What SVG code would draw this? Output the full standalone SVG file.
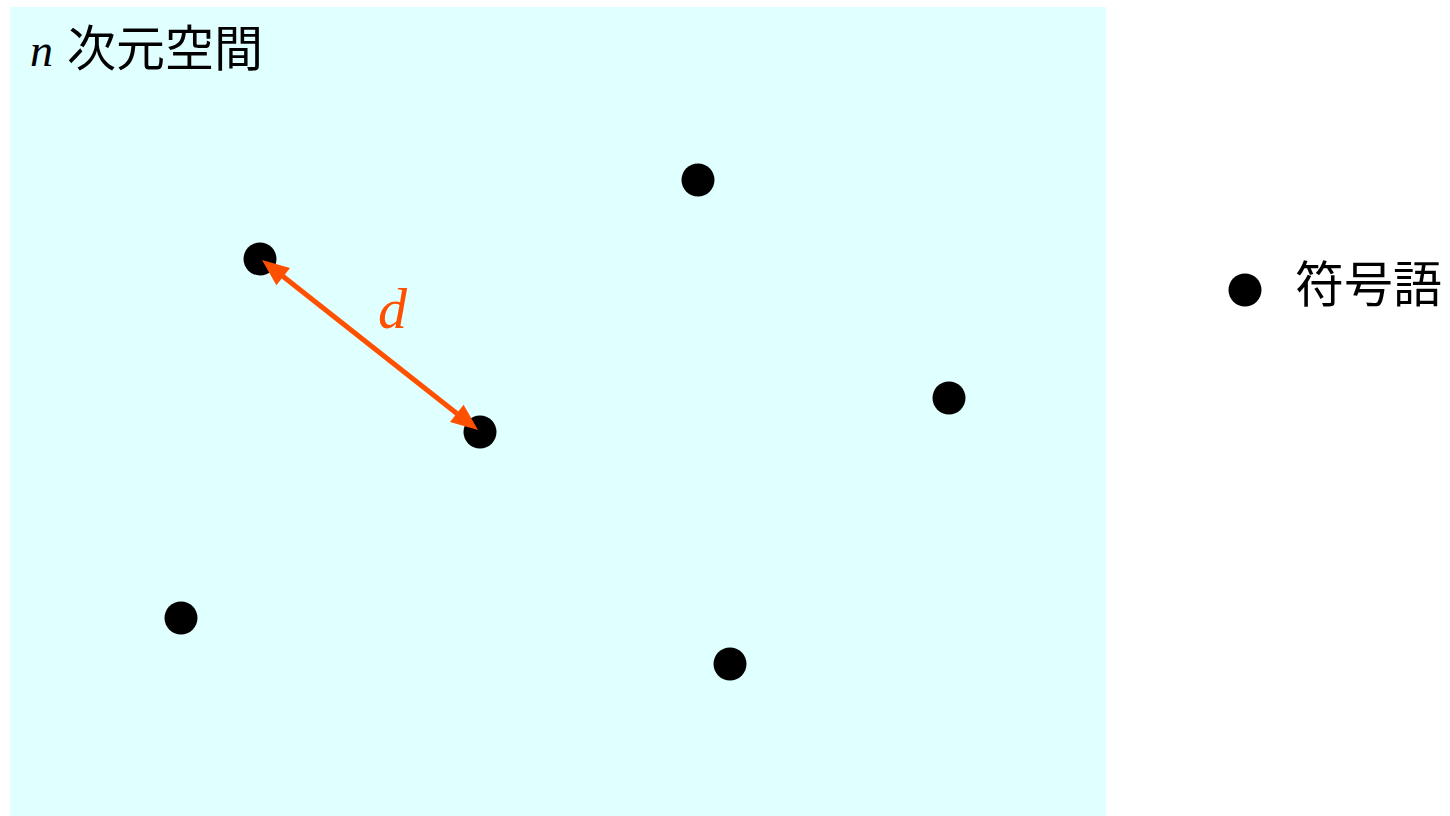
<svg xmlns="http://www.w3.org/2000/svg" width="1450" height="816" viewBox="0 0 1450 816">
<style>
.dot{fill:#000}
.cjk{font-family:"Noto Sans CJK JP","Noto Sans CJK SC",sans-serif;font-size:49px;fill:#000}
.math{font-family:"Liberation Serif",serif;font-style:italic}
.head{fill:#FF5000}
</style>
<rect id="space" x="10" y="7" width="1096" height="809" fill="#E0FFFF"/>
<g id="title">
<text x="30" y="66" class="math" font-size="46" fill="#000">n</text>
<text x="67" y="66" class="cjk">次元空間</text>
</g>
<g id="p1"><circle class="dot" cx="698" cy="180" r="16.5"/></g>
<g id="p2"><circle class="dot" cx="260" cy="259" r="16.5"/></g>
<g id="p3"><circle class="dot" cx="480" cy="432" r="16.5"/></g>
<g id="p4"><circle class="dot" cx="949" cy="398" r="16.5"/></g>
<g id="p5"><circle class="dot" cx="181" cy="618" r="16.5"/></g>
<g id="p6"><circle class="dot" cx="730" cy="664" r="16.5"/></g>
<g id="connectors">
<line x1="280" y1="274" x2="460" y2="416" stroke="#FF5000" stroke-width="5"/>
<polygon class="head" points="262,260 276.4,285.3 290,268.1"/>
<polygon class="head" points="478,430 450,421.9 463.6,404.7"/>
<text x="378" y="328" class="math" font-size="58" fill="#FF5000">d</text>
</g>
<g id="legend">
<circle class="dot" cx="1245" cy="290" r="16.5"/>
<text x="1295" y="302" class="cjk">符号語</text>
</g>
</svg>
